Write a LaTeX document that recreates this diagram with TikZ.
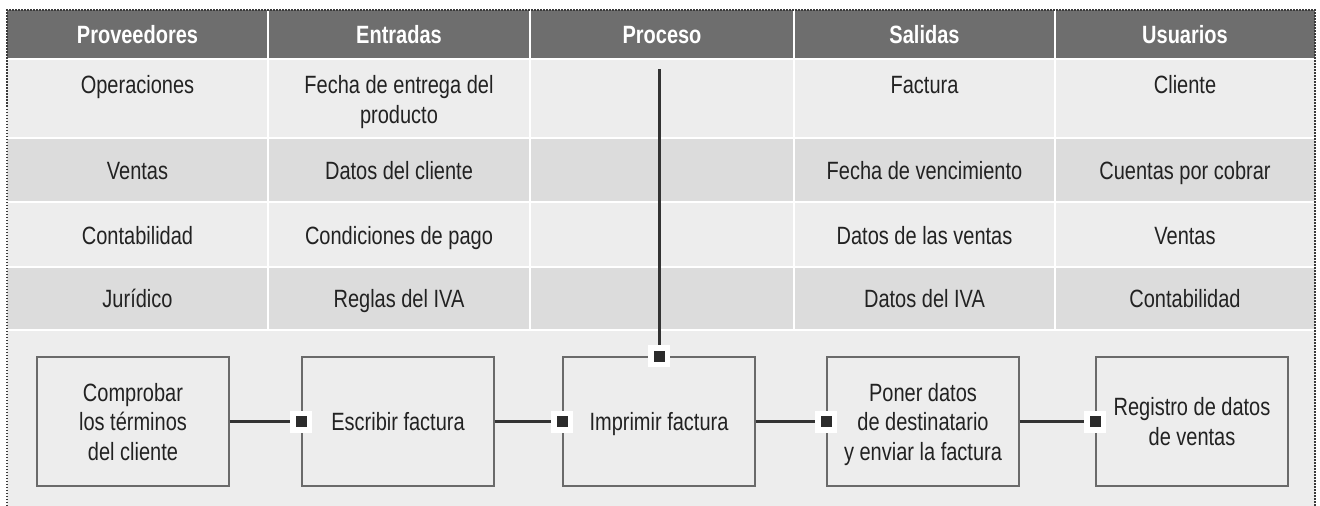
\documentclass[tikz,border=0pt]{standalone}
\usepackage{fontspec}
\setmainfont{Liberation Sans}[FakeStretch=0.8]
\definecolor{hdr}{HTML}{6E6E6E}
\definecolor{rowA}{HTML}{EDEDED}
\definecolor{rowB}{HTML}{DCDCDC}
\definecolor{ink}{HTML}{222222}
\definecolor{connc}{HTML}{333333}
\definecolor{markc}{HTML}{2B2B2B}
\definecolor{boxline}{HTML}{6A6A6A}
\definecolor{dotc}{HTML}{3A3A3A}
\newcommand{\hs}{\rule{0pt}{25pt}}
\newcommand{\ds}{\rule[-7pt]{0pt}{0pt}}
\tikzset{
  cell/.style={font=\fontsize{25}{29.5}\selectfont, align=center, inner sep=0pt, text=ink},
  hd/.style={font=\fontsize{25}{29.5}\selectfont\bfseries, align=center, inner sep=0pt, text=white},
  procbox/.style={draw=boxline, line width=1.3pt, fill=rowA, minimum width=192pt, minimum height=129pt, inner sep=0pt, align=center, text=ink, font=\fontsize{25}{29.5}\selectfont},
  cn/.style={draw=connc, line width=3pt},
  mk/.style={fill=markc, draw=white, line width=5.5pt, minimum size=16.5pt, inner sep=0pt},
  sepline/.style={draw=white, line width=1.5pt},
  dotborder/.style={draw=dotc, line width=2.4pt, dash pattern=on 1.5pt off 1.5pt}
}
\begin{document}
\begin{tikzpicture}[x=1pt,y=-1pt]
\useasboundingbox (0,0) rectangle (1320,506);
% backgrounds
\fill[rowA] (7,59) rectangle (1315,506);
\fill[rowB] (7,138) rectangle (1315,202);
\fill[rowB] (7,267) rectangle (1315,330);
\fill[hdr] (7,10) rectangle (1315,59);
% separators
\foreach \yy in {59,138,202,267,330} \draw[sepline] (7,\yy) -- (1315,\yy);
\foreach \xx in {268,530,794,1055} \draw[sepline] (\xx,10) -- (\xx,330);
% dotted border
\draw[dotborder] (7,506) -- (7,10) -- (1315,10) -- (1315,506);
% header
\node[hd] (h1) at (137.5,34.25) {\hs Proveedores\ds};
\node[hd] (h2) at (399,34.25) {\hs Entradas\ds};
\node[hd] (h3) at (662,34.25) {\hs Proceso\ds};
\node[hd] (h4) at (924.5,34.25) {\hs Salidas\ds};
\node[hd] (h5) at (1185,34.25) {\hs Usuarios\ds};
% row 1
\node[cell] (r1c1) at (137.5,84.25) {\hs Operaciones\ds};
\node[cell] (r1c2) at (399,99.25) {\hs Fecha de entrega del\\producto\ds};
\node[cell] (r1c4) at (924.5,84.25) {\hs Factura\ds};
\node[cell] (r1c5) at (1185,84.25) {\hs Cliente\ds};
% row 2
\node[cell] (r2c1) at (137.5,170.5) {\hs Ventas\ds};
\node[cell] (r2c2) at (399,170.5) {\hs Datos del cliente\ds};
\node[cell] (r2c4) at (924.5,170.5) {\hs Fecha de vencimiento\ds};
\node[cell] (r2c5) at (1185,170.5) {\hs Cuentas por cobrar\ds};
% row 3
\node[cell] (r3c1) at (137.5,235) {\hs Contabilidad\ds};
\node[cell] (r3c2) at (399,235) {\hs Condiciones de pago\ds};
\node[cell] (r3c4) at (924.5,235) {\hs Datos de las ventas\ds};
\node[cell] (r3c5) at (1185,235) {\hs Ventas\ds};
% row 4
\node[cell] (r4c1) at (137.5,298.5) {\hs Jurídico\ds};
\node[cell] (r4c2) at (399,298.5) {\hs Reglas del IVA\ds};
\node[cell] (r4c4) at (924.5,298.5) {\hs Datos del IVA\ds};
\node[cell] (r4c5) at (1185,298.5) {\hs Contabilidad\ds};
% process boxes
\node[procbox] (b1) at (133,421.5) {\hs Comprobar\\los términos\\del cliente\ds};
\node[procbox] (b2) at (398,421.5) {\hs Escribir factura\ds};
\node[procbox] (b3) at (659,421.5) {\hs Imprimir factura\ds};
\node[procbox] (b4) at (923,421.5) {\hs Poner datos\\de destinatario\\y enviar la factura\ds};
\node[procbox] (b5) at (1192,421.5) {\hs Registro de datos\\de ventas\ds};
% connectors
\coordinate (src) at (b3.north |- 0,69);
\draw[cn] (src) -- (b3.north);
\draw[cn] (b1.east) -- (b2.west);
\draw[cn] (b2.east) -- (b3.west);
\draw[cn] (b3.east) -- (b4.west);
\draw[cn] (b4.east) -- (b5.west);
% markers
\node[mk] (m2) at (b2.west) {};
\node[mk] (m3) at (b3.west) {};
\node[mk] (m3t) at (b3.north) {};
\node[mk] (m4) at (b4.west) {};
\node[mk] (m5) at (b5.west) {};
\end{tikzpicture}
\end{document}
